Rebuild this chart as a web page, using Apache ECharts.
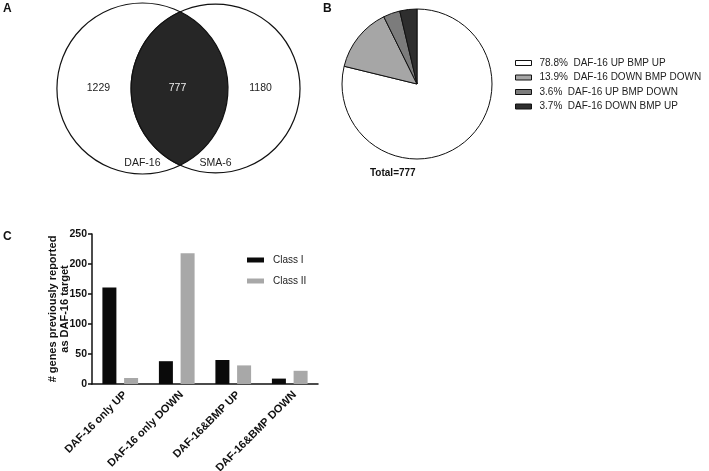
<!DOCTYPE html>
<html><head><meta charset="utf-8">
<script src="https://cdn.jsdelivr.net/npm/echarts@6/dist/echarts.min.js"></script>
<style>html,body{margin:0;padding:0;background:#fff}#c{width:709px;height:471px}</style>
</head><body><div id="c"></div>
<script>
// ---- Data ----
const vennSets = ['DAF-16', 'SMA-6'];
const vennCounts = [1229, 777, 1180]; // DAF-16 only, both, SMA-6 only
const pieNames = ['DAF-16 UP BMP UP', 'DAF-16 DOWN BMP DOWN', 'DAF-16 UP BMP DOWN', 'DAF-16 DOWN BMP UP'];
const piePercents = [78.8, 13.9, 3.6, 3.7];
const pieTotal = 777;
const barCategories = ['DAF-16 only UP', 'DAF-16 only DOWN', 'DAF-16&BMP UP', 'DAF-16&BMP DOWN'];
const classNames = ['Class I', 'Class II'];
const classI = [161, 38, 40, 9];
const classII = [10, 218, 31, 22];
const yTicks = [0, 50, 100, 150, 200, 250];

// ---- Derived ----
const FONT = 'Arial, "Liberation Sans", Helvetica, sans-serif';
const totals = [vennCounts[0] + vennCounts[1], vennCounts[2] + vennCounts[1]];
const meanTotal = (totals[0] + totals[1]) / 2;
const vennOffset = 0.43;
const vennData = [
  [-vennOffset, 0, Math.sqrt(totals[0] / meanTotal)],
  [vennOffset, 0, Math.sqrt(totals[1] / meanTotal)]
];

function txt(x, y, s, color, size) {
  return {
    type: 'text', x: x, y: y, z2: 10,
    style: {
      text: s, fill: color, font: size + 'px ' + FONT,
      align: 'center', verticalAlign: 'middle',
      textAlign: 'center', textVerticalAlign: 'middle'
    }
  };
}

function vennRender(params, api) {
  if (params.dataIndex !== 0) return null;
  const c1 = api.coord([api.value(0, 0), api.value(1, 0)]);
  const c2 = api.coord([api.value(0, 1), api.value(1, 1)]);
  const unit = api.size([1, 0])[0];
  const r1 = api.value(2, 0) * unit;
  const r2 = api.value(2, 1) * unit;
  const d = c2[0] - c1[0];
  const a = (d * d + r1 * r1 - r2 * r2) / (2 * d);
  const h = Math.sqrt(r1 * r1 - a * a);
  const tx = c1[0] + a, ty = c1[1] - h, by = c1[1] + h;
  const lens = 'M ' + tx + ' ' + ty + ' A ' + r1 + ' ' + r1 + ' 0 0 1 ' + tx + ' ' + by +
               ' A ' + r2 + ' ' + r2 + ' 0 0 1 ' + tx + ' ' + ty + ' Z';
  const lensCx = ((c2[0] - r2) + (c1[0] + r1)) / 2;
  const ls = { fill: '#fff', stroke: '#111', lineWidth: 1.2 };
  return {
    type: 'group',
    children: [
      { type: 'circle', shape: { cx: c1[0], cy: c1[1], r: r1 }, style: ls },
      { type: 'circle', shape: { cx: c2[0], cy: c2[1], r: r2 }, style: ls },
      { type: 'path', shape: { pathData: lens }, style: { fill: '#262626', stroke: '#111', lineWidth: 1.2 } },
      txt(c1[0] - 44, c1[1], String(vennCounts[0]), '#222', 10.5),
      txt(lensCx - 2, c1[1], String(vennCounts[1]), '#eee', 10.5),
      txt(c2[0] + 45, c2[1], String(vennCounts[2]), '#222', 10.5),
      txt(c1[0], c1[1] + 75, vennSets[0], '#222', 10.5),
      txt(c2[0], c2[1] + 75, vennSets[1], '#222', 10.5)
    ]
  };
}

const pieColors = ['#ffffff', '#a6a6a6', '#7c7c7c', '#2e2e2e'];

const chart = echarts.init(document.getElementById('c'), null, { renderer: 'canvas' });
chart.setOption({
  animation: false,
  backgroundColor: '#fff',
  textStyle: { fontFamily: FONT },
  title: [
    { text: 'A', left: 3, top: 3, padding: 0, textStyle: { fontSize: 12, fontWeight: 'bold', color: '#111', fontFamily: FONT } },
    { text: 'B', left: 323, top: 3, padding: 0, textStyle: { fontSize: 12, fontWeight: 'bold', color: '#111', fontFamily: FONT } },
    { text: 'C', left: 3, top: 231, padding: 0, textStyle: { fontSize: 12, fontWeight: 'bold', color: '#111', fontFamily: FONT } },
    { text: 'Total=' + pieTotal, left: 370, top: 168, padding: 0, textStyle: { fontSize: 10, fontWeight: 'bold', color: '#111', fontFamily: FONT } }
  ],
  legend: [
    {
      data: pieNames, orient: 'vertical', left: 515, top: 58, padding: 0,
      itemWidth: 16, itemHeight: 5, itemGap: 4.5, icon: 'rect',
      itemStyle: { borderColor: '#111', borderWidth: 1 },
      selectedMode: false,
      formatter: function (n) { return piePercents[pieNames.indexOf(n)] + '%  ' + n; },
      textStyle: { fontSize: 10, color: '#222', fontFamily: FONT, padding: [0, 0, 0, 3], overflow: 'none' }
    },
    {
      data: classNames, orient: 'vertical', left: 247, top: 255, padding: 0,
      itemWidth: 17, itemHeight: 5, itemGap: 11, icon: 'rect', selectedMode: false,
      textStyle: { fontSize: 10, color: '#222', fontFamily: FONT, padding: [0, 0, 0, 4] }
    }
  ],
  grid: [
    { left: 9, top: 0, width: 340, height: 177, outerBoundsMode: 'none', containLabel: false },
    { left: 92, top: 234, width: 226, height: 150, outerBoundsMode: 'none', containLabel: false }
  ],
  xAxis: [
    { gridIndex: 0, type: 'value', min: -2, max: 2, show: false },
    {
      gridIndex: 1, type: 'category', data: barCategories,
      axisLine: { lineStyle: { color: '#111', width: 1.5 } },
      axisTick: { alignWithLabel: true, length: 4, lineStyle: { color: '#111', width: 1.5 } },
      axisLabel: { rotate: 45, fontSize: 11, fontWeight: 'bold', color: '#111', margin: 14, interval: 0, padding: [0, -7, 0, 0] }
    }
  ],
  yAxis: [
    { gridIndex: 0, type: 'value', min: -1.05, max: 1.05, show: false },
    {
      gridIndex: 1, type: 'value', min: yTicks[0], max: yTicks[yTicks.length - 1], interval: yTicks[1] - yTicks[0],
      name: '# genes previously reported\nas DAF-16 target', nameLocation: 'middle', nameGap: 21,
      nameMoveOverlap: false,
      nameTextStyle: { fontSize: 11, fontWeight: 'bold', color: '#111', lineHeight: 12 },
      axisLine: { show: true, lineStyle: { color: '#111', width: 1.5 } },
      axisTick: { show: true, length: 4, lineStyle: { color: '#111', width: 1.5 } },
      axisLabel: { fontSize: 10.5, fontWeight: 'bold', color: '#111', margin: 5 },
      splitLine: { show: false }
    }
  ],
  series: [
    {
      type: 'custom', name: 'venn', coordinateSystem: 'cartesian2d', xAxisIndex: 0, yAxisIndex: 0,
      data: vennData, renderItem: vennRender, silent: true, clip: false
    },
    {
      type: 'pie', name: 'pie', center: [417, 84], radius: 75, startAngle: 90, clockwise: true,
      label: { show: false }, labelLine: { show: false }, silent: true,
      itemStyle: { borderColor: '#111', borderWidth: 1 },
      emphasis: { disabled: true },
      data: pieNames.map(function (n, i) { return { name: n, value: piePercents[i], itemStyle: { color: pieColors[i] } }; })
    },
    {
      type: 'bar', name: classNames[0], xAxisIndex: 1, yAxisIndex: 1, data: classI,
      barWidth: 14, barGap: '55%', itemStyle: { color: '#0a0a0a' }, silent: true
    },
    {
      type: 'bar', name: classNames[1], xAxisIndex: 1, yAxisIndex: 1, data: classII,
      barWidth: 14, barGap: '55%', itemStyle: { color: '#a8a8a8' }, silent: true
    }
  ]
});
</script>
</body></html>
